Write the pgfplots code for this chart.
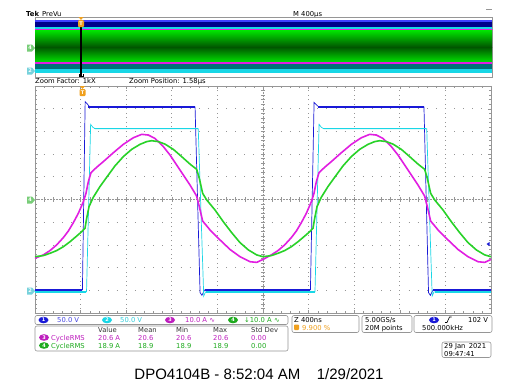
\documentclass[border=0pt]{standalone}
\usepackage{pgfplots}
\pgfplotsset{compat=1.18}
\usepackage{fontspec}
\setmainfont{DejaVu Sans}
\newfontfamily\arial{Liberation Sans}
\definecolor{cA}{RGB}{25,25,215}
\definecolor{cB}{RGB}{25,215,230}
\definecolor{cC}{RGB}{225,30,225}
\definecolor{cD}{RGB}{40,210,40}
\definecolor{tA}{RGB}{70,70,225}
\definecolor{tB}{RGB}{50,205,220}
\definecolor{tC}{RGB}{190,30,190}
\definecolor{tD}{RGB}{30,170,30}
\definecolor{org}{RGB}{240,160,30}
\definecolor{navy1}{RGB}{0,0,140}
\definecolor{gBright}{RGB}{0,225,0}
\definecolor{gDark}{RGB}{0,85,0}
\definecolor{teal1}{RGB}{0,115,120}
\definecolor{frame}{RGB}{150,150,150}
\definecolor{mkG}{RGB}{120,205,120}
\definecolor{mkB}{RGB}{120,210,220}
\newcommand\sz{\fontsize{6.8}{7}\selectfont}
\newcommand\tx[4]{\node[anchor=base west, inner sep=0, text=#3, font=\sz] at (#1,#2) {#4};}
\newcommand\chip[4]{\fill[#3] (#1,#2) ellipse [x radius=5pt, y radius=3.3pt];
  \node[white, inner sep=0, font=\fontsize{5}{5}\selectfont\bfseries] at (#1,#2) {#4};}
\newcommand\mk[4]{\fill[#3] (27,#2-3.5) -- (32,#2-3.5) -- (35,#2) -- (32,#2+3.5) -- (27,#2+3.5) -- cycle;
  \node[inner sep=0, text=#4, font=\fontsize{5}{5}\selectfont\bfseries] at (30,#2) {#1};}
\newcommand\tmark[2]{\fill[org] (#1-2.5,#2-3) -- (#1+2.5,#2-3) -- (#1,#2) -- cycle;
  \fill[org, rounded corners=1pt] (#1-3,#2) rectangle (#1+3,#2+7);
  \node[inner sep=0, text=white, font=\fontsize{5}{5}\selectfont\bfseries] at (#1,#2+3.5) {T};}
\begin{document}
\begin{tikzpicture}[x=1pt,y=-1pt]
\useasboundingbox (0,0) rectangle (519,389);
\fill[white] (0,0) rectangle (519,389);
% header
\node[anchor=base west, inner sep=0, font=\sz\bfseries] at (26,16) {Tek};
\tx{42}{16}{black}{PreVu}
\tx{293}{16}{black}{M 400µs}
\draw[frame, line width=0.8pt] (486,9) -- (492,9);
% preview strip
\begin{axis}[at={(35pt,-77.5pt)}, anchor=south west, width=457pt, height=60pt,
  scale only axis, xmin=0, xmax=1, ymin=17.5, ymax=77.5, y dir=reverse,
  axis line style={frame, line width=0.5pt}, ticks=none]
\addplot[draw=none, fill=blue!75!white] coordinates {(0,20)(1,20)(1,21.5)(0,21.5)};
\addplot[draw=none, fill=navy1] coordinates {(0,21.5)(1,21.5)(1,27.3)(0,27.3)};
\addplot[draw=none, fill=cB] coordinates {(0,27.3)(1,27.3)(1,28.6)(0,28.6)};
\addplot[draw=none, fill=cC] coordinates {(0,28.6)(1,28.6)(1,30.6)(0,30.6)};
\addplot[draw=none, top color=gBright, bottom color=gDark] coordinates {(0,30.6)(1,30.6)(1,47)(0,47)};
\addplot[draw=none, top color=gDark, bottom color=gBright] coordinates {(0,47)(1,47)(1,62)(0,62)};
\addplot[draw=none, fill=cC] coordinates {(0,62)(1,62)(1,63.8)(0,63.8)};
\addplot[draw=none, fill=teal1] coordinates {(0,63.8)(1,63.8)(1,69.3)(0,69.3)};
\addplot[draw=none, fill=cB] coordinates {(0,69.3)(1,69.3)(1,73.3)(0,73.3)};
\draw[black, line width=1.1pt] (axis cs:0.1006,22) -- (axis cs:0.1006,75.5);
\draw[black, line width=0.5pt] (axis cs:0.0962,74) -- (axis cs:0.0962,76.5) -- (axis cs:0.105,76.5) -- (axis cs:0.105,74);
\end{axis}
\tmark{81}{20}
\mk{4}{48}{mkG}{white}
\mk{2}{71}{mkB}{white}
\tx{35}{83}{black}{Zoom Factor: 1kX}
\tx{129}{83}{black}{Zoom Position: 1.58µs}
% main zoom window
\begin{axis}[at={(35pt,-313pt)}, anchor=south west, width=456pt, height=227pt,
  scale only axis, xmin=0, xmax=10, ymin=-5, ymax=5,
  axis line style={frame, line width=0.6pt},
  xtick={0,...,10}, ytick={-5,...,5}, minor x tick num=4, minor y tick num=4,
  xticklabels={}, yticklabels={}, tick align=inside, tick pos=both,
  major tick length=3pt, minor tick length=1.6pt,
  tick style={frame, line width=0.4pt},
  grid=major,
  x grid style={frame, line width=0.8pt, dash pattern=on 0.8pt off 3.74pt, dash phase=0.4pt},
  y grid style={frame, line width=0.8pt, dash pattern=on 0.8pt off 8.32pt, dash phase=0.4pt},
  unbounded coords=jump]
\draw[frame, line width=0.5pt, dash pattern=on 0.6pt off 0.9pt] (axis cs:0,0) -- (axis cs:10,0);
\draw[frame, line width=0.5pt, dash pattern=on 0.6pt off 0.9pt] (axis cs:5,-5) -- (axis cs:5,5);
\pgfplotsinvokeforeach{0.2,0.4,...,9.9}{\draw[frame, line width=0.4pt] (axis cs:#1,-0.09) -- (axis cs:#1,0.09);}
\pgfplotsinvokeforeach{-4.8,-4.6,...,4.9}{\draw[frame, line width=0.4pt] (axis cs:4.955,#1) -- (axis cs:5.045,#1);}
% CH1 blue
\addplot[cA, line width=0.7pt] coordinates {
(0,-3.98)(1.04,-3.98)(1.10,4.31)(1.15,4.2)(1.2,4.08)(3.51,4.08)(3.62,-4.1)(3.66,-4.22)(3.72,-3.98)
(6.04,-3.98)(6.12,4.28)(6.17,4.18)(6.22,4.08)(8.53,4.08)(8.63,-4.1)(8.67,-4.22)(8.73,-3.98)(10,-3.98)};
\addplot[cA, line width=1.7pt] coordinates {
(0,-3.98)(1.03,-3.98)(1.03,nan)(1.17,4.08)(3.50,4.08)(3.50,nan)(3.72,-3.98)(6.03,-3.98)(6.03,nan)
(6.20,4.08)(8.52,4.08)(8.52,nan)(8.73,-3.98)(10,-3.98)};
% CH2 cyan
\addplot[cB, line width=0.7pt] coordinates {
(0,-4.07)(1.13,-4.07)(1.22,3.31)(1.27,3.18)(1.32,3.12)(3.58,3.12)(3.70,-4.25)(3.74,-4.07)
(6.14,-4.07)(6.23,3.31)(6.28,3.18)(6.33,3.12)(8.59,3.12)(8.71,-4.25)(8.75,-4.07)(10,-4.07)};
\addplot[cB, line width=1.5pt] coordinates {
(0,-4.07)(1.12,-4.07)(1.12,nan)(1.30,3.12)(3.57,3.12)(3.57,nan)(3.76,-4.07)(6.13,-4.07)(6.13,nan)
(6.31,3.12)(8.58,3.12)(8.58,nan)(8.77,-4.07)(10,-4.07)};
% CH3 magenta
\addplot[cC, line width=1.6pt] coordinates {
(0,-2.59)(0.183,-2.44)(0.329,-2.25)(0.475,-2.00)(0.621,-1.68)(0.731,-1.39)(0.841,-1.02)(0.950,-0.61)
(1.060,-0.10)(1.118,0.27)(1.170,0.79)(1.228,1.18)(1.352,1.42)(1.499,1.67)(1.718,2.06)(1.937,2.43)
(2.156,2.72)(2.339,2.87)(2.485,2.84)(2.632,2.69)(2.814,2.33)(2.961,1.96)(3.107,1.52)(3.253,1.08)
(3.399,0.64)(3.545,0.15)(3.604,-0.32)(3.677,-0.95)(3.838,-1.34)(4.057,-1.78)(4.276,-2.20)(4.496,-2.52)
(4.715,-2.74)(4.861,-2.77)(5.0,-2.64)
(5.183,-2.44)(5.329,-2.25)(5.475,-2.00)(5.621,-1.68)(5.731,-1.39)(5.841,-1.02)(5.950,-0.61)
(6.060,-0.10)(6.118,0.27)(6.170,0.79)(6.228,1.18)(6.352,1.42)(6.499,1.67)(6.718,2.06)(6.937,2.43)
(7.156,2.72)(7.339,2.87)(7.485,2.84)(7.632,2.69)(7.814,2.33)(7.961,1.96)(8.107,1.52)(8.253,1.08)
(8.399,0.64)(8.545,0.15)(8.604,-0.32)(8.677,-0.95)(8.838,-1.34)(9.057,-1.78)(9.276,-2.20)(9.496,-2.52)
(9.715,-2.74)(9.861,-2.77)(10,-2.64)};
% CH4 green
\addplot[cD, line width=1.6pt] coordinates {
(0,-2.52)(0.183,-2.47)(0.329,-2.37)(0.475,-2.25)(0.621,-2.08)(0.768,-1.86)(0.914,-1.61)(1.023,-1.42)
(1.096,-1.27)(1.133,-0.83)(1.184,-0.32)(1.279,0.10)(1.425,0.57)(1.572,0.98)(1.754,1.48)(1.937,1.89)
(2.120,2.21)(2.303,2.43)(2.449,2.55)(2.558,2.59)(2.705,2.55)(2.851,2.44)(3.033,2.21)(3.216,1.89)
(3.399,1.56)(3.545,1.33)(3.604,0.93)(3.677,0.27)(3.765,-0.02)(3.947,-0.46)(4.130,-0.98)(4.313,-1.46)
(4.496,-1.90)(4.678,-2.22)(4.861,-2.44)(5.0,-2.52)
(5.183,-2.47)(5.329,-2.37)(5.475,-2.25)(5.621,-2.08)(5.768,-1.86)(5.914,-1.61)(6.023,-1.42)
(6.096,-1.27)(6.133,-0.83)(6.184,-0.32)(6.279,0.10)(6.425,0.57)(6.572,0.98)(6.754,1.48)(6.937,1.89)
(7.120,2.21)(7.303,2.43)(7.449,2.55)(7.558,2.59)(7.705,2.55)(7.851,2.44)(8.033,2.21)(8.216,1.89)
(8.399,1.56)(8.545,1.33)(8.604,0.93)(8.677,0.27)(8.765,-0.02)(8.947,-0.46)(9.130,-0.98)(9.313,-1.46)
(9.496,-1.90)(9.678,-2.22)(9.861,-2.44)(10,-2.52)};
\end{axis}
\tmark{82.5}{89}
\mk{4}{200}{mkG}{white}
\mk{2}{291}{mkB}{white}
\fill[cA] (486.5,244) -- (489.5,242) -- (489.5,246) -- cycle;
% channel row
\draw[frame, rounded corners=2pt, line width=0.6pt] (35,315.5) rectangle (288,324.5);
\chip{43.5}{320}{cA}{1}
\tx{57}{322.8}{tA}{50.0 V}
\chip{107}{320}{cB}{2}
\tx{120}{322.8}{tB}{50.0 V}
\chip{170}{320}{tC}{3}
\tx{185}{322.8}{tC}{10.0 A ∿}
\chip{233}{320}{tD}{4}
\tx{244}{322.8}{tD}{↓10.0 A ∿}
% measurements
\draw[frame, rounded corners=2pt, line width=0.6pt] (35,326) rectangle (288,351);
\tx{98}{332.5}{black!80}{Value}
\tx{138}{332.5}{black!80}{Mean}
\tx{176}{332.5}{black!80}{Min}
\tx{213}{332.5}{black!80}{Max}
\tx{251}{332.5}{black!80}{Std Dev}
\chip{44}{337.5}{tC}{3}
\tx{51}{340.3}{tC}{CycleRMS}
\tx{98}{340.3}{tC}{20.6 A}
\tx{138}{340.3}{tC}{20.6}
\tx{176}{340.3}{tC}{20.6}
\tx{213}{340.3}{tC}{20.6}
\tx{251}{340.3}{tC}{0.00}
\chip{44}{345.5}{tD}{4}
\tx{51}{348.3}{tD}{CycleRMS}
\tx{98}{348.3}{tD}{18.9 A}
\tx{138}{348.3}{tD}{18.9}
\tx{176}{348.3}{tD}{18.9}
\tx{213}{348.3}{tD}{18.9}
\tx{251}{348.3}{tD}{0.00}
% timebase boxes
\draw[frame, rounded corners=2pt, line width=0.6pt] (292,315.5) rectangle (359,332.5);
\tx{294}{322.5}{black}{Z 400ns}
\fill[org, rounded corners=0.8pt] (294,324.5) rectangle (299,330);
\tx{302}{330.5}{org}{9.900 \%}
\draw[frame, rounded corners=2pt, line width=0.6pt] (362,315.5) rectangle (412,332.5);
\tx{365}{322.5}{black}{5.00GS/s}
\tx{365}{330.5}{black}{20M points}
\draw[frame, rounded corners=2pt, line width=0.6pt] (414,315.5) rectangle (492,332.5);
\chip{434}{320}{cA}{1}
\draw[black, line width=0.6pt] (445,322.5) -- (447,322.5) -- (449.5,317) -- (451.5,317);
\tx{468}{322.5}{black}{102 V}
\tx{422}{330.5}{black}{500.000kHz}
\draw[frame, rounded corners=2pt, line width=0.6pt] (442,342) rectangle (491,357.5);
\tx{444}{348.8}{black}{29 Jan\, 2021}
\tx{444}{356.2}{black}{09:47:41}
% footer
\node[anchor=base, inner sep=0, font=\arial\fontsize{15}{15}\selectfont] at (259,379) {DPO4104B - 8:52:04 AM\hspace{1.1em}1/29/2021};
\end{tikzpicture}
\end{document}
